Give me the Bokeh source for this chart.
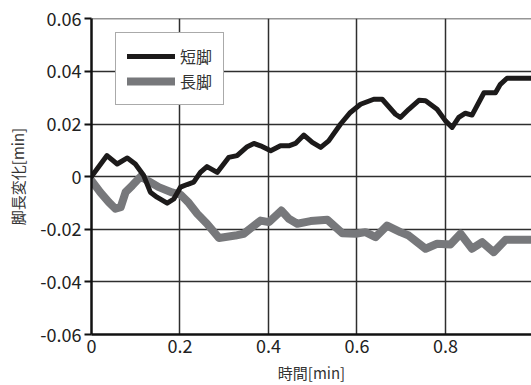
from bokeh.plotting import figure
from bokeh.models import (Range1d, FixedTicker, CustomJSTickFormatter, Legend, LegendItem)
from bokeh.embed import file_html
from bokeh.resources import INLINE

# ---- data ----
short_x = [0, 0.035, 0.058, 0.081, 0.099, 0.118, 0.133, 0.148, 0.171, 0.186, 0.201, 0.216,
           0.231, 0.246, 0.261, 0.284, 0.310, 0.329, 0.352, 0.367, 0.382, 0.405, 0.427, 0.446,
           0.461, 0.480, 0.499, 0.518, 0.536, 0.563, 0.585, 0.608, 0.638, 0.657, 0.687, 0.698,
           0.717, 0.740, 0.755, 0.781, 0.800, 0.815, 0.830, 0.845, 0.860, 0.887, 0.913, 0.924,
           0.939, 1.0]
short_y = [0, 0.0080, 0.0048, 0.0071, 0.0048, 0.0004, -0.0059, -0.0078, -0.0101, -0.0085,
           -0.0040, -0.0030, -0.0021, 0.0016, 0.0038, 0.0016, 0.0073, 0.0080, 0.0114, 0.0126,
           0.0117, 0.0098, 0.0117, 0.0117, 0.0126, 0.0158, 0.0130, 0.0111, 0.0136, 0.0200,
           0.0244, 0.0275, 0.0294, 0.0294, 0.0237, 0.0225, 0.0256, 0.0290, 0.0288, 0.0256,
           0.0212, 0.0187, 0.0225, 0.0241, 0.0234, 0.0319, 0.0319, 0.0351, 0.0374, 0.0374]

long_x = [0, 0.020, 0.039, 0.054, 0.066, 0.077, 0.092, 0.111, 0.133, 0.152, 0.182, 0.201,
          0.220, 0.239, 0.261, 0.288, 0.325, 0.344, 0.363, 0.382, 0.401, 0.429, 0.446, 0.465,
          0.495, 0.533, 0.567, 0.597, 0.619, 0.642, 0.668, 0.698, 0.717, 0.755, 0.781, 0.811,
          0.834, 0.860, 0.883, 0.909, 0.936, 1.0]
long_y = [-0.0015, -0.0060, -0.0097, -0.0122, -0.0116, -0.0059, -0.0034, 0.0000, -0.0021,
          -0.0040, -0.0060, -0.0068, -0.0100, -0.0141, -0.0179, -0.0233, -0.0224, -0.0217,
          -0.0192, -0.0167, -0.0173, -0.0129, -0.0160, -0.0179, -0.0169, -0.0164, -0.0215,
          -0.0217, -0.0211, -0.0230, -0.0186, -0.0211, -0.0224, -0.0274, -0.0255, -0.0258,
          -0.0217, -0.0274, -0.0249, -0.0287, -0.0240, -0.0240]

series_names = ["短脚", "長脚"]
x_ticks = [0, 0.2, 0.4, 0.6, 0.8, 1.0]
y_ticks = [-0.06, -0.04, -0.02, 0, 0.02, 0.04, 0.06]
x_title = "時間[min]"
y_title = "脚長変化[min]"

FONT = "Noto Sans CJK JP"
GRID = "#2e2e2e"

p = figure(width=531, height=385, output_backend="svg", toolbar_location=None,
           x_range=Range1d(0, 0.9944), y_range=Range1d(-0.06, 0.0601),
           min_border_left=91, min_border_right=0, min_border_top=18, min_border_bottom=50)
p.outline_line_color = None
p.background_fill_color = "white"

# axes
p.xaxis.ticker = FixedTicker(ticks=x_ticks)
p.yaxis.ticker = FixedTicker(ticks=y_ticks)
p.xaxis.formatter = CustomJSTickFormatter(code="return tick == 0 ? '0' : tick.toFixed(1);")
p.yaxis.formatter = CustomJSTickFormatter(code="return Math.abs(tick) < 1e-9 ? '0' : tick.toFixed(2);")
for ax in (p.xaxis, p.yaxis):
    ax.axis_line_color = "#111111"
    ax.axis_line_width = 2.5
    ax.major_tick_line_color = "#111111"
    ax.major_tick_line_width = 2
    ax.minor_tick_line_color = None
    ax.major_tick_in = 0
    ax.major_label_text_font = FONT
    ax.major_label_text_font_size = "18px"
    ax.major_label_text_color = "#222222"
    ax.axis_label_text_font = FONT
    ax.axis_label_text_font_size = "15px"
    ax.axis_label_text_font_style = "normal"
    ax.axis_label_text_color = "#333333"
p.yaxis.major_tick_out = 7
p.yaxis.major_label_standoff = 3
p.xaxis.major_tick_out = 0
p.xaxis.major_label_standoff = 4
p.xaxis.axis_label = x_title
p.yaxis.axis_label = y_title
p.xaxis.axis_label_standoff = 6
p.yaxis.axis_label_standoff = 9

p.xgrid.grid_line_color = GRID
p.ygrid.grid_line_color = GRID
p.xgrid.grid_line_width = 1.5
p.ygrid.grid_line_width = 1.5

# lines
r_long = p.line(long_x, long_y, line_color="#77787b", line_width=8,
                line_join="round", line_cap="round")
r_short = p.line(short_x, short_y, line_color="#1c1a1a", line_width=5,
                 line_join="round", line_cap="round")

legend = Legend(items=[LegendItem(label=series_names[0], renderers=[r_short]),
                       LegendItem(label=series_names[1], renderers=[r_long])],
                location=(24, 229), orientation="vertical")
legend.border_line_color = "#555555"
legend.border_line_width = 1
legend.background_fill_color = "white"
legend.background_fill_alpha = 1
legend.padding = 11
legend.spacing = 1
legend.margin = 0
legend.glyph_width = 48
legend.glyph_height = 20
legend.label_standoff = 5
legend.label_height = 20
legend.label_text_font = FONT
legend.label_text_font_size = "16px"
legend.label_text_color = "#333333"
p.add_layout(legend)

open("out.html", "w").write(file_html(p, INLINE))
